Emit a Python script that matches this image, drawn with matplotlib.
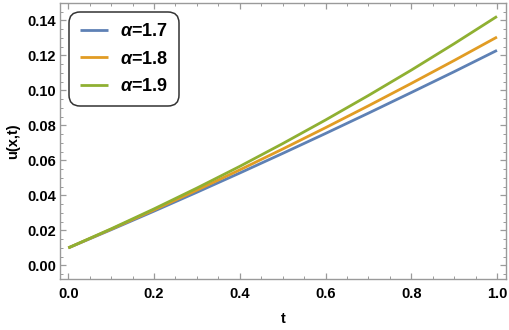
import matplotlib
matplotlib.use('Agg')
import matplotlib.pyplot as plt
from matplotlib.ticker import MultipleLocator, FormatStrFormatter

plt.rcParams['font.family'] = ['Liberation Sans', 'DejaVu Sans']
plt.rcParams['mathtext.fontset'] = 'custom'
plt.rcParams['mathtext.it'] = 'Liberation Sans:italic:bold'

# ── data ─────────────────────────────────────────────────────────────────────
t = [0.0, 0.1, 0.2, 0.3, 0.4, 0.5, 0.6, 0.7, 0.8, 0.9, 1.0]
u_17 = [0.0100, 0.0204, 0.0310, 0.0418, 0.0528, 0.0640, 0.0754, 0.0870, 0.0988, 0.1107, 0.1229]
u_18 = [0.0100, 0.0207, 0.0317, 0.0430, 0.0546, 0.0665, 0.0787, 0.0912, 0.1040, 0.1171, 0.1305]
u_19 = [0.0100, 0.0209, 0.0323, 0.0442, 0.0566, 0.0696, 0.0831, 0.0971, 0.1116, 0.1267, 0.1423]
labels = [r'$\alpha$=1.7', r'$\alpha$=1.8', r'$\alpha$=1.9']
colors = ['#5E81B5', '#E19C24', '#8FB032']

fig = plt.figure(figsize=(5.1, 3.3), dpi=100)
ax = fig.add_axes([0.1176, 0.1545, 0.8745, 0.8365])

for u, lab, c in zip([u_17, u_18, u_19], labels, colors):
    ax.plot(t, u, color=c, lw=2.0, label=lab, solid_capstyle='butt')

ax.set_xlim(-0.0195, 1.021)
ax.set_ylim(-0.0078, 0.150)

ax.xaxis.set_major_locator(MultipleLocator(0.2))
ax.xaxis.set_minor_locator(MultipleLocator(0.05))
ax.yaxis.set_major_locator(MultipleLocator(0.02))
ax.yaxis.set_minor_locator(MultipleLocator(0.005))
ax.xaxis.set_major_formatter(FormatStrFormatter('%.1f'))
ax.yaxis.set_major_formatter(FormatStrFormatter('%.2f'))

frame_col = '#9a9a9a'
for s in ax.spines.values():
    s.set_color(frame_col)
    s.set_linewidth(1.0)
ax.tick_params(which='both', direction='in', top=True, right=True,
               color=frame_col, labelsize=10.5, labelcolor='black')
ax.tick_params(axis='y', pad=3)
ax.tick_params(axis='x', pad=6)
ax.tick_params(which='major', length=4, width=0.9)
ax.tick_params(which='minor', length=2.2, width=0.7)
for lbl in ax.get_xticklabels() + ax.get_yticklabels():
    lbl.set_fontweight('bold')

ax.set_xlabel('t', fontsize=10.5, fontweight='bold', labelpad=8)
ax.set_ylabel('u(x,t)', fontsize=10.5, fontweight='bold', labelpad=5)

leg = ax.legend(loc='upper left', prop={'weight': 'bold', 'size': 13},
                frameon=True, fancybox=True, edgecolor='black',
                handlelength=1.55, handletextpad=0.65, labelspacing=0.58,
                borderaxespad=0.7, borderpad=0.42)
leg.get_frame().set_linewidth(1.1)
leg.get_frame().set_boxstyle('round,pad=0.2,rounding_size=0.6')

plt.savefig('out.png', dpi=100)
